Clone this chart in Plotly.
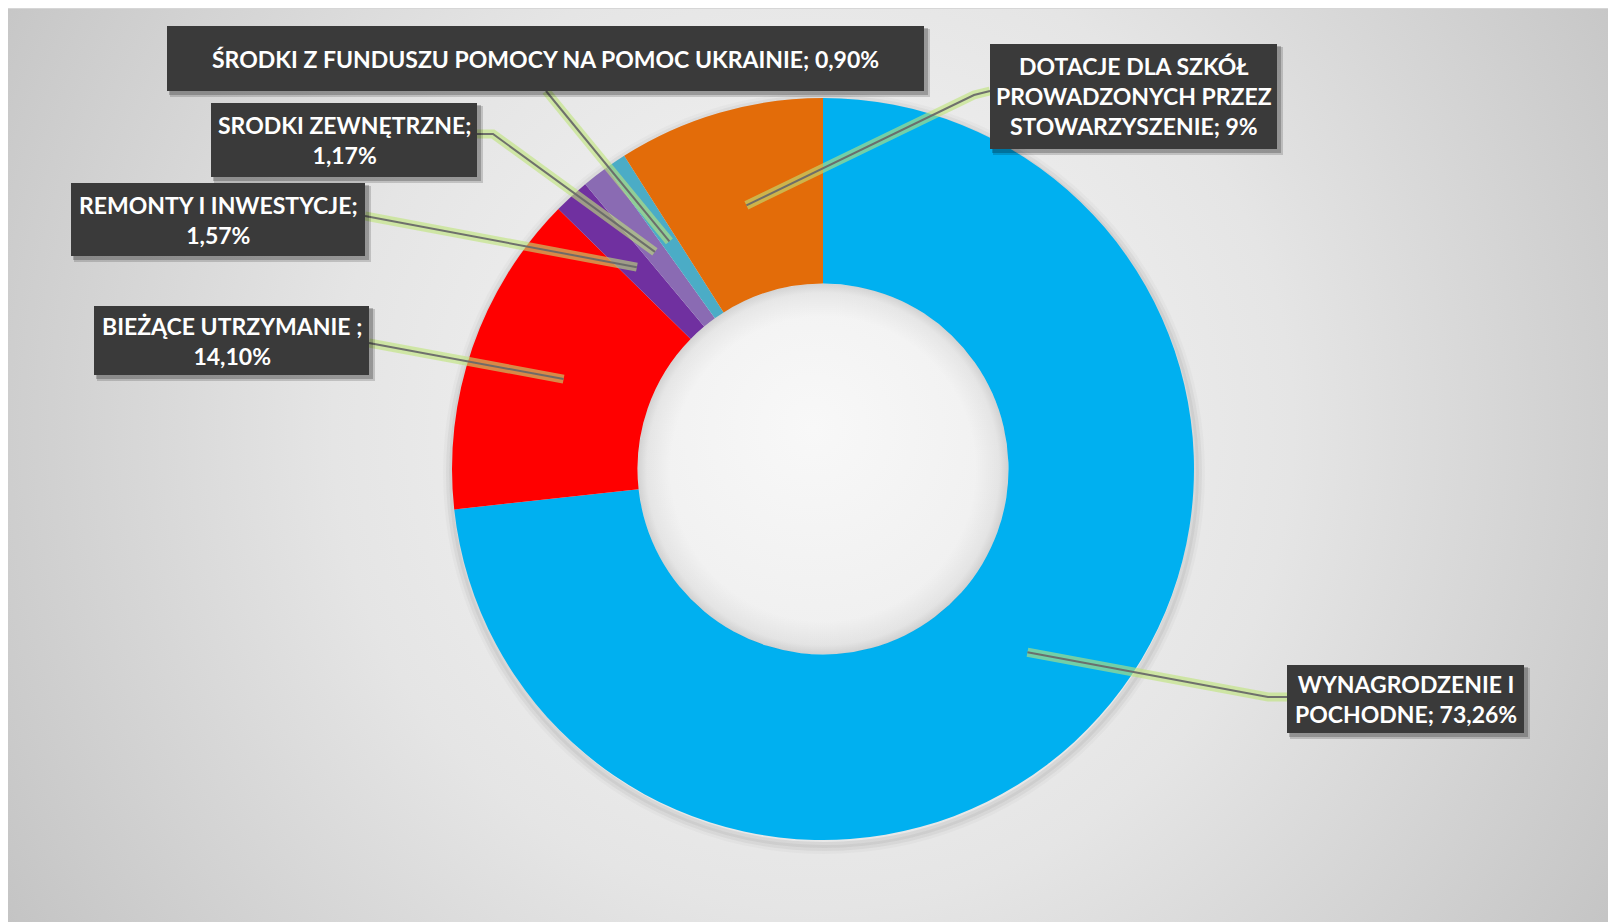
import base64
import numpy as np
import plotly.graph_objects as go

# Data
categories = [
    "WYNAGRODZENIE I POCHODNE",
    "BIEŻĄCE UTRZYMANIE ",
    "REMONTY I INWESTYCJE",
    "SRODKI ZEWNĘTRZNE",
    "ŚRODKI Z FUNDUSZU POMOCY NA POMOC UKRAINIE",
    "DOTACJE DLA SZKÓŁ PROWADZONYCH PRZEZ STOWARZYSZENIE",
]
shares = [73.26, 14.10, 1.57, 1.17, 0.90, 9.0]
share_labels = ["73,26%", "14,10%", "1,57%", "1,17%", "0,90%", "9%"]
colors = ["#00B0F0", "#FF0000", "#7030A0", "#8A6BB3", "#4BACC6", "#E36C09"]

# label text as it wraps in the boxes
box_text = [
    "WYNAGRODZENIE I<br>POCHODNE; 73,26%",
    "BIEŻĄCE UTRZYMANIE ;<br>14,10%",
    "REMONTY I INWESTYCJE;<br>1,57%",
    "SRODKI ZEWNĘTRZNE;<br>1,17%",
    "ŚRODKI Z FUNDUSZU POMOCY NA POMOC UKRAINIE; 0,90%",
    "DOTACJE DLA SZKÓŁ<br>PROWADZONYCH PRZEZ<br>STOWARZYSZENIE; 9%",
]

# Layout (pixels, page coords; the page body adds an 8px offset)
W, H = 1616, 922
OFF = 8
cx, cy, R = 823, 469, 371
hole = 0.5

# label boxes: x0, y0, x1, y1
boxes = [
    (1287, 665, 1524, 733),
    (94, 306, 369, 375),
    (71, 183, 365, 256),
    (211, 103, 477, 177),
    (167, 26, 924, 91),
    (990, 44, 1277, 149),
]
# where the leader line leaves the box (+ optional elbow)
leader_start = [
    [(1287, 697), (1268, 697)],
    [(369, 343)],
    [(365, 216)],
    [(477, 134), (493, 134)],
    [(546, 91)],
    [(990, 91), (974, 95)],
]


def px(x):
    return (x - OFF) / W


def py(y):
    return 1 - (y - OFF) / H


# background gradient as an svg
bg_svg = """<svg xmlns='http://www.w3.org/2000/svg' width='1616' height='922' viewBox='0 0 1616 922' preserveAspectRatio='none'>
<defs><radialGradient id='g' gradientUnits='userSpaceOnUse' cx='805' cy='420' r='960'>
<stop offset='0' stop-color='#f8f8f8'/><stop offset='0.5' stop-color='#e5e5e5'/><stop offset='1' stop-color='#c3c3c3'/>
</radialGradient></defs><rect width='1616' height='922' fill='url(#g)'/></svg>"""
bg_src = "data:image/svg+xml;base64," + base64.b64encode(bg_svg.encode()).decode()

# inner shadow for the hole
hr = R * hole
hole_svg = """<svg xmlns='http://www.w3.org/2000/svg' width='200' height='200' viewBox='0 0 200 200'>
<defs><radialGradient id='h' cx='100' cy='100' r='100' gradientUnits='userSpaceOnUse'>
<stop offset='0' stop-color='#000000' stop-opacity='0'/><stop offset='0.82' stop-color='#000000' stop-opacity='0'/>
<stop offset='0.95' stop-color='#000000' stop-opacity='0.05'/><stop offset='1' stop-color='#000000' stop-opacity='0.13'/>
</radialGradient></defs><circle cx='100' cy='100' r='100' fill='url(#h)'/></svg>"""
hole_src = "data:image/svg+xml;base64," + base64.b64encode(hole_svg.encode()).decode()

fig = go.Figure()

fig.add_trace(go.Pie(
    labels=categories,
    values=shares,
    hole=hole,
    sort=False,
    direction="clockwise",
    rotation=0,
    textinfo="none",
    hoverinfo="label+percent",
    marker=dict(colors=colors, line=dict(width=0)),
    showlegend=False,
    domain=dict(x=[px(cx - R), px(cx + R)], y=[py(cy + R), py(cy - R)]),
))

shapes = []
annotations = []

# frame line along the top
shapes.append(dict(type="line", xref="paper", yref="paper", x0=0, x1=1, y0=1, y1=1,
                   line=dict(color="#d6d6d6", width=2), layer="below"))

# soft drop shadow around the donut (rings only, so the hole stays light)
for i, a in enumerate([0.07, 0.04, 0.025]):
    d = 1 + i * 3
    shapes.append(dict(type="circle", xref="paper", yref="paper",
                       x0=px(cx - R - d + 1), x1=px(cx + R + d + 1),
                       y0=py(cy + R + d + 4), y1=py(cy - R - d + 4),
                       fillcolor="rgba(0,0,0,0)", line=dict(width=6, color=f"rgba(0,0,0,{a})"),
                       layer="below"))

# leader lines from box to middle of each slice
cum = np.cumsum([0] + shares)
total = cum[-1]
r_mid = R * 0.74
for i in range(len(shares)):
    mid = (cum[i] + cum[i + 1]) / 2 / total * 2 * np.pi
    ex = cx + r_mid * np.sin(mid)
    ey = cy - r_mid * np.cos(mid)
    pts = leader_start[i] + [(ex, ey)]
    path = "M " + " L ".join(f"{px(x):.5f},{py(y):.5f}" for x, y in pts)
    shapes.append(dict(type="path", path=path, xref="paper", yref="paper",
                       line=dict(color="rgba(190,228,120,0.6)", width=9), layer="above"))
    shapes.append(dict(type="path", path=path, xref="paper", yref="paper",
                       line=dict(color="rgba(105,105,105,0.95)", width=2), layer="above"))

# label boxes with shadow
for i, (x0, y0, x1, y1) in enumerate(boxes):
    shapes.append(dict(type="rect", xref="paper", yref="paper",
                       x0=px(x0 + 3), x1=px(x1 + 6), y0=py(y1 + 6), y1=py(y0 + 3),
                       fillcolor="rgba(0,0,0,0.16)", line=dict(width=0), layer="above"))
    shapes.append(dict(type="rect", xref="paper", yref="paper",
                       x0=px(x0 + 2), x1=px(x1 + 4), y0=py(y1 + 4), y1=py(y0 + 2),
                       fillcolor="rgba(0,0,0,0.22)", line=dict(width=0), layer="above"))
    shapes.append(dict(type="rect", xref="paper", yref="paper",
                       x0=px(x0), x1=px(x1), y0=py(y1), y1=py(y0),
                       fillcolor="#3a3a3a", line=dict(width=0), layer="above"))
    annotations.append(dict(
        x=px((x0 + x1) / 2), y=py((y0 + y1) / 2), xref="paper", yref="paper",
        text=f"<b>{box_text[i]}</b>", showarrow=False, align="center",
        xanchor="center", yanchor="middle",
        font=dict(family="Lato, 'Open Sans', sans-serif", size=23, color="white"),
    ))

fig.update_layout(
    width=W,
    height=H,
    margin=dict(l=0, r=0, t=0, b=0),
    paper_bgcolor="#d8d8d8",
    plot_bgcolor="white",
    shapes=shapes,
    annotations=annotations,
    images=[
        dict(source=bg_src, xref="paper", yref="paper", x=0, y=1,
             sizex=1, sizey=1, xanchor="left", yanchor="top",
             sizing="stretch", layer="below"),
        dict(source=hole_src, xref="paper", yref="paper", x=px(cx - hr), y=py(cy - hr),
             sizex=2 * hr / W, sizey=2 * hr / H, xanchor="left", yanchor="top",
             sizing="stretch", layer="above"),
    ],
)

fig.write_html("out.html")
